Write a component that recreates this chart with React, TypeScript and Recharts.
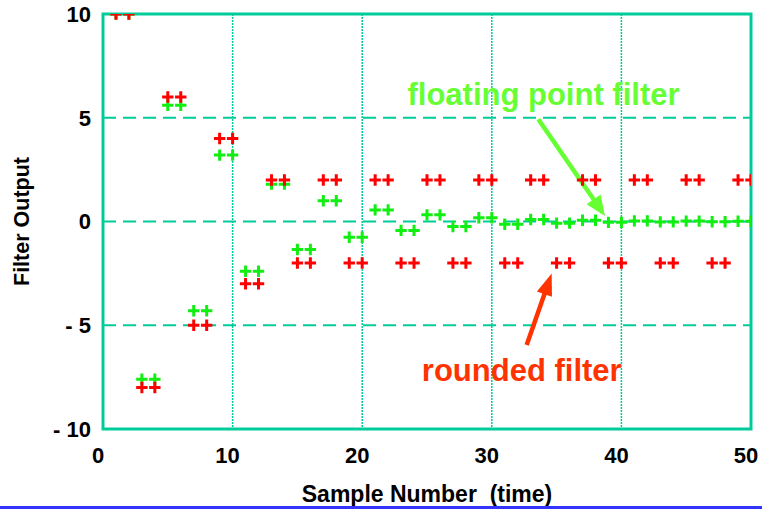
import React from "react";
import {
  ScatterChart,
  Scatter,
  XAxis,
  YAxis,
  CartesianGrid,
  ReferenceLine,
  ReferenceArea,
  ReferenceDot,
  Label,
} from "recharts";

const samples = [
  1, 2, 3, 4, 5, 6, 7, 8, 9, 10, 11, 12, 13, 14, 15, 16, 17, 18, 19, 20, 21, 22, 23, 24, 25,
  26, 27, 28, 29, 30, 31, 32, 33, 34, 35, 36, 37, 38, 39, 40, 41, 42, 43, 44, 45, 46, 47, 48, 49, 50,
];

const roundedFilter = [
  10, 10, -8, -8, 6, 6, -5, -5, 4, 4, -3, -3, 2, 2, -2, -2, 2, 2, -2, -2, 2, 2, -2, -2, 2,
  2, -2, -2, 2, 2, -2, -2, 2, 2, -2, -2, 2, 2, -2, -2, 2, 2, -2, -2, 2, 2, -2, -2, 2, 2,
];

const floatingFilter = [
  10, 10, -7.6, -7.6, 5.6, 5.6, -4.3, -4.3, 3.2, 3.2, -2.4, -2.4, 1.8, 1.8, -1.35, -1.35, 1.0, 1.0,
  -0.76, -0.76, 0.56, 0.56, -0.43, -0.43, 0.32, 0.32, -0.24, -0.24, 0.18, 0.18, -0.13, -0.13, 0.1,
  0.1, -0.08, -0.08, 0.06, 0.06, -0.04, -0.04, 0.03, 0.03, -0.02, -0.02, 0.02, 0.02, -0.01, -0.01,
  0.01, 0.01,
];

const xTicks = [0, 10, 20, 30, 40, 50];
const yTicks = [-10, -5, 0, 5, 10];

const floatLabel = "floating point filter";
const roundLabel = "rounded filter";
const xTitle = "Sample Number  (time)";
const yTitle = "Filter Output";

const floatData = samples.map((s, i) => ({ x: s, y: floatingFilter[i] }));
const roundData = samples.map((s, i) => ({ x: s, y: roundedFilter[i] }));

const FONT = '"Liberation Sans", Arial, sans-serif';
const TEAL = "#00cc99";
const RED = "#ff0000";
const GREEN = "#11ee11";
const NOTE_GREEN = "#66ff33";
const NOTE_RED = "#ff3300";

const plus = (color: string) => (props: any) => {
  const { cx, cy } = props;
  if (cx == null || cy == null) return <g />;
  const a = 5.7;
  return (
    <path
      d={`M${cx - a},${cy}H${cx + a}M${cx},${cy - a}V${cy + a}`}
      stroke={color}
      strokeWidth={3}
      fill="none"
    />
  );
};

const arrow = (color: string, width: number, headLen: number, headW: number) => (props: any) => {
  const { x1, y1, x2, y2 } = props;
  const dx = x2 - x1;
  const dy = y2 - y1;
  const len = Math.sqrt(dx * dx + dy * dy) || 1;
  const ux = dx / len;
  const uy = dy / len;
  const bx = x2 - ux * headLen;
  const by = y2 - uy * headLen;
  const px = -uy;
  const py = ux;
  return (
    <g>
      <line x1={x1} y1={y1} x2={bx + ux * 2} y2={by + uy * 2} stroke={color} strokeWidth={width} />
      <polygon
        points={`${x2},${y2} ${bx + px * headW / 2},${by + py * headW / 2} ${bx - px * headW / 2},${by - py * headW / 2}`}
        fill={color}
      />
    </g>
  );
};

const noteText = (text: string, color: string) => (props: any) => {
  const { cx, cy } = props;
  return (
    <text
      x={cx}
      y={cy}
      textAnchor="middle"
      fill={color}
      fontSize={31}
      fontWeight="bold"
      fontFamily={FONT}
    >
      {text}
    </text>
  );
};

const yFmt = (v: number) => (v < 0 ? `- ${-v}` : `${v}`);

export default function App() {
  return (
    <div style={{ position: "absolute", left: 0, top: 0, width: 762, height: 509, background: "#fff" }}>
      <ScatterChart
        width={762}
        height={509}
        margin={{ top: 14, right: 11, left: 0, bottom: 0 }}
        style={{ fontFamily: FONT }}
      >
        <CartesianGrid
          vertical={false}
          stroke={TEAL}
          strokeWidth={2}
          strokeDasharray="13 7"
        />
        <CartesianGrid
          horizontal={false}
          stroke={TEAL}
          strokeWidth={1.5}
          strokeDasharray="2 1"
        />
        <XAxis
          dataKey="x"
          type="number"
          domain={[0, 50]}
          ticks={xTicks}
          height={80}
          allowDataOverflow
          axisLine={false}
          tickLine={false}
          tickMargin={12}
          tick={{ fill: "#000", fontSize: 22, fontWeight: "bold", fontFamily: FONT, dx: -5 }}
          interval={0}
        >
          <Label
            content={(p: any) => {
              const vb = p.viewBox || {};
              return (
                <text
                  x={vb.x + vb.width / 2}
                  y={vb.y + 72.5}
                  textAnchor="middle"
                  fontSize={23}
                  fontWeight="bold"
                  fontFamily={FONT}
                  fill="#000"
                  style={{ whiteSpace: "pre" }}
                >
                  {xTitle}
                </text>
              );
            }}
          />
        </XAxis>
        <YAxis
          dataKey="y"
          type="number"
          domain={[-10, 10]}
          ticks={yTicks}
          width={103}
          allowDataOverflow
          axisLine={false}
          tickLine={false}
          tickMargin={6}
          tickFormatter={yFmt}
          tick={{ fill: "#000", fontSize: 22, fontWeight: "bold", fontFamily: FONT }}
          interval={0}
        >
          <Label
            content={(p: any) => {
              const vb = p.viewBox || {};
              const cx = 22;
              const cy = vb.y + vb.height / 2;
              return (
                <text
                  x={cx}
                  y={cy}
                  transform={`rotate(-90, ${cx}, ${cy})`}
                  textAnchor="middle"
                  dominantBaseline="central"
                  fontSize={21.5}
                  fontWeight="bold"
                  fontFamily={FONT}
                  fill="#000"
                >
                  {yTitle}
                </text>
              );
            }}
          />
        </YAxis>
        <Scatter
          name="floating point filter"
          data={floatData}
          shape={plus(GREEN)}
          isAnimationActive={false}
        />
        <Scatter
          name="rounded filter"
          data={roundData}
          shape={plus(RED)}
          isAnimationActive={false}
        />
        <ReferenceArea
          x1={0}
          x2={50}
          y1={-10}
          y2={10}
          fill="none"
          fillOpacity={0}
          stroke={TEAL}
          strokeWidth={3}
          ifOverflow="visible"
        />
        <ReferenceLine
          segment={[
            { x: 33.59, y: 4.93 },
            { x: 38.73, y: 0.27 },
          ]}
          ifOverflow="visible"
          shape={arrow(NOTE_GREEN, 4.5, 20, 17)}
        />
        <ReferenceLine
          segment={[
            { x: 32.69, y: -5.95 },
            { x: 34.62, y: -2.5 },
          ]}
          ifOverflow="visible"
          shape={arrow(NOTE_RED, 4.5, 22, 16)}
        />
        <ReferenceDot
          x={33.99}
          y={5.61}
          r={0}
          ifOverflow="visible"
          shape={noteText(floatLabel, NOTE_GREEN)}
        />
        <ReferenceDot
          x={32.31}
          y={-7.69}
          r={0}
          ifOverflow="visible"
          shape={noteText(roundLabel, NOTE_RED)}
        />
      </ScatterChart>
      <div
        style={{
          position: "absolute",
          left: 0,
          top: 506,
          width: 762,
          height: 3,
          background: "#3333ff",
        }}
      />
    </div>
  );
}
